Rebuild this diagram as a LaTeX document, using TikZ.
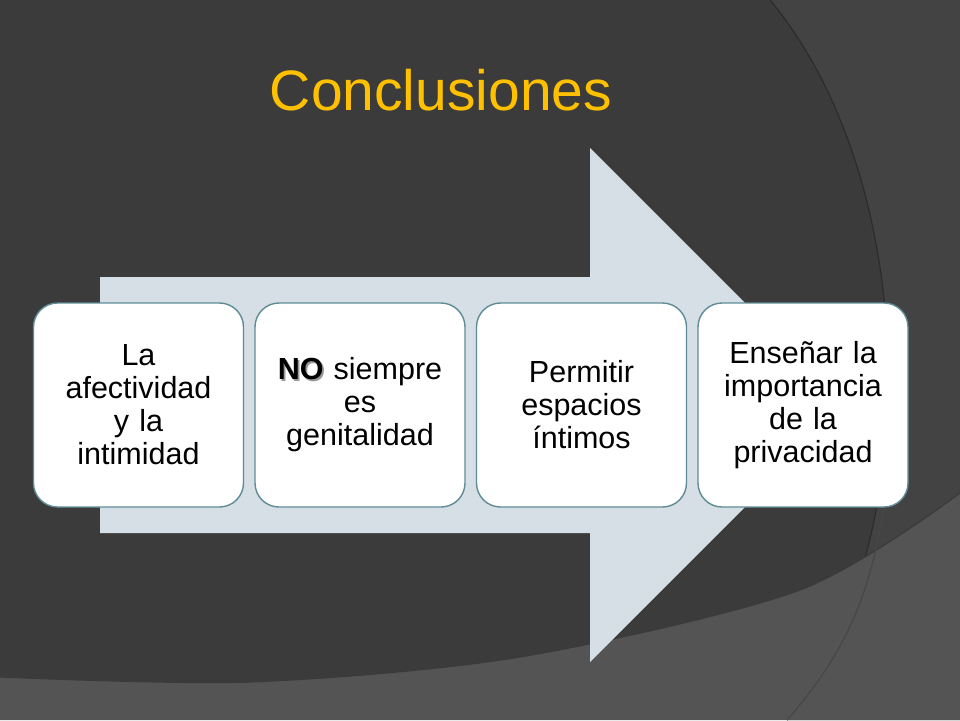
\documentclass[tikz,border=0pt]{standalone}
\usepackage{fontspec}
\setmainfont{Liberation Sans}
\definecolor{bgdark}{HTML}{3B3B3B}
\definecolor{bgmid}{HTML}{434343}
\definecolor{bglow}{HTML}{545454}
\definecolor{arrowfill}{HTML}{D6DFE5}
\definecolor{boxline}{HTML}{5F8C96}
\definecolor{titlegold}{HTML}{FFC000}
\newcommand{\shadowNO}{\rlap{\kern1.8pt\raisebox{-1.8pt}{\textcolor{black!40}{\textbf{NO}}}}\textbf{NO}}
\tikzset{
  stepbox/.style={draw=boxline, line width=1.4pt, fill=white, rounded corners=24pt,
    minimum width=210pt, minimum height=204pt, inner sep=0pt, align=center,
    text width=204pt, font=\fontsize{30.5}{33}\selectfont, text=black},
  titletext/.style={font=\fontsize{57}{60}\selectfont, text=titlegold, inner sep=0pt}
}
\begin{document}
\begin{tikzpicture}[x=1pt,y=-1pt]
\useasboundingbox (0,0) rectangle (960,720);
% background
\fill[bgdark] (0,0) rectangle (960,720);
\fill[bgmid] (770,0) .. controls (920,180) and (929,540) .. (787,720) -- (960,720) -- (960,0) -- cycle;
\draw[black!25!bgdark, line width=1.2pt] (770,0) .. controls (920,180) and (929,540) .. (787,720);
\fill[bglow] plot[smooth] coordinates {(0,677) (250,682) (520,657) (800,590) (960,493)} -- (960,720) -- (0,720) -- cycle;
\draw[black!30!bglow, line width=1.2pt] plot[smooth] coordinates {(0,677) (250,682) (520,657) (800,590) (960,493)};
\draw[black!15!bglow, line width=1.2pt] (883,510) .. controls (870,600) and (840,660) .. (787,720);
% title
\node[titletext, anchor=base] (title) at (441,110) {Conclusiones};
% arrow
\fill[arrowfill] (100,277) -- (590,277) -- (590,148) -- (847,405) -- (590,662) -- (590,533) -- (100,533) -- cycle;
% boxes
\node[stepbox] (b1) at (138.5,405) {La\\afectividad\\y la\\intimidad};
\node[stepbox] (b2) at (360,405) {\shadowNO{} siempre\\es\\genitalidad};
\node[stepbox] (b3) at (581.5,405) {Permitir\\espacios\\íntimos};
\node[stepbox] (b4) at (803,405) {Enseñar la\\importancia\\de la\\privacidad};
\end{tikzpicture}
\end{document}
